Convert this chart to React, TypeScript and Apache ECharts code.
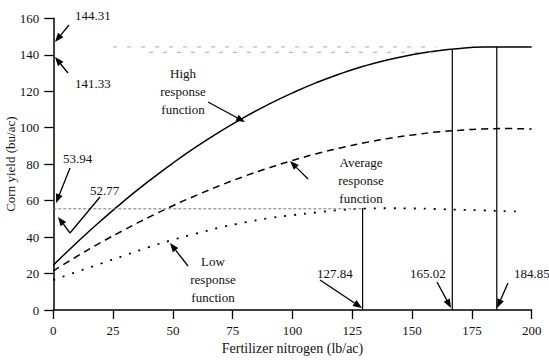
import React, { useEffect, useRef } from "react";
import * as echarts from "echarts";

// Fertilizer nitrogen levels (lb/ac) and read-off yields (bu/ac)
const nitrogenLevels = [0, 10, 20, 30, 40, 50, 60, 70, 80, 90, 100, 110, 120, 130, 140, 150, 160, 170, 180, 190, 200];
const highYield = [24.6, 37.2, 49.1, 60.3, 70.8, 80.6, 89.7, 98.1, 105.8, 112.8, 119.1, 124.7, 129.6, 133.8, 137.3, 140.0, 142.1, 143.5, 144.2, 144.3, 144.3];
const averageYield = [21.5, 29.5, 37.1, 44.2, 50.9, 57.2, 63.0, 68.4, 73.4, 77.9, 82.0, 85.7, 88.9, 91.7, 94.1, 96.0, 97.6, 98.6, 99.3, 99.5, 99.3];
const lowNitrogen = [0, 10, 20, 30, 40, 50, 60, 70, 80, 90, 100, 110, 120, 130, 140, 150, 160, 170, 180, 190, 195];
const lowYield = [16.5, 21.0, 25.5, 30.0, 34.5, 38.5, 42.0, 45.3, 48.0, 50.3, 52.0, 53.5, 54.8, 55.6, 55.8, 55.7, 55.4, 55.0, 54.6, 54.2, 54.0];

// Optimum nitrogen rates (drop lines) as drawn, with their labels
const optimumN = [129.3, 166.8, 185.4];
const optimumYield = [55.9, 142.6, 144.4];
const optimumLabels = ["127.84", "165.02", "184.85"];

// Horizontal guide levels
const guideLevels = [55.5, 144.31, 141.33];
const guideFrom = [0, 25, 40];
const guideTo = [129.3, 160, 160];
const yieldLabels = ["144.31", "141.33", "53.94", "52.77"];

const FONT = "Liberation Serif";

function arrow(x1: number, y1: number, x2: number, y2: number) {
  const dx = x2 - x1, dy = y2 - y1;
  const len = Math.sqrt(dx * dx + dy * dy);
  const ux = dx / len, uy = dy / len;
  const hl = 9, hw = 3.5;
  const bx = x2 - ux * hl, by = y2 - uy * hl;
  return [
    { type: "line", z: 100, shape: { x1, y1, x2: bx, y2: by }, style: { stroke: "#000", lineWidth: 1.3 } },
    {
      type: "polygon", z: 100,
      shape: { points: [[x2, y2], [bx - uy * hw, by + ux * hw], [bx + uy * hw, by - ux * hw]] },
      style: { fill: "#000" },
    },
  ];
}

function label(text: string, x: number, y: number, align = "left") {
  return {
    type: "text", z: 100, x, y,
    style: { text, fontFamily: FONT, fontSize: 13, fill: "#111", align, verticalAlign: "middle", lineHeight: 18 },
  };
}

export default function App() {
  const ref = useRef<HTMLDivElement>(null);
  useEffect(() => {
    if (!ref.current) return;
    const chart = echarts.init(ref.current, null, { renderer: "svg" });
    const pair = (xs: number[], ys: number[]) => xs.map((x, i) => [x, ys[i]]);

    const series: any[] = [
      { name: "High", type: "line", data: pair(nitrogenLevels, highYield), smooth: true, symbol: "none", lineStyle: { color: "#000", width: 1.5 } },
      { name: "Average", type: "line", data: pair(nitrogenLevels, averageYield), smooth: true, symbol: "none", lineStyle: { color: "#000", width: 1.5, type: [7, 5] } },
      { name: "Low", type: "line", data: pair(lowNitrogen, lowYield), smooth: true, symbol: "none", lineStyle: { color: "#000", width: 1.8, type: [2, 8] } },
    ];
    optimumN.forEach((n, i) => {
      series.push({ type: "line", data: [[n, 0], [n, optimumYield[i]]], symbol: "none", lineStyle: { color: "#000", width: 1.2 } });
    });
    guideLevels.forEach((lv, i) => {
      series.push({
        type: "line", data: [[guideFrom[i], lv], [guideTo[i], lv]], symbol: "none",
        lineStyle: { color: i === 0 ? "#777" : "#aaa", width: 1, type: i === 0 ? [3, 2] : [4, 10] },
      });
    });

    const graphic: any[] = [
      ...arrow(69, 25, 55, 42),
      ...arrow(68, 73, 55, 57),
      ...arrow(70, 168, 56, 203),
      { type: "line", z: 100, shape: { x1: 100, y1: 197, x2: 70, y2: 233 }, style: { stroke: "#000", lineWidth: 1.3 } },
      ...arrow(70, 233, 58, 217),
      ...arrow(208, 102, 245, 122),
      ...arrow(308, 179, 290, 161),
      ...arrow(188, 266, 170, 243),
      ...arrow(320, 280, 362, 308),
      ...arrow(437, 282, 451, 308),
      ...arrow(508, 283, 497, 308),
      label(yieldLabels[0], 75, 15),
      label(yieldLabels[1], 75, 83),
      label(yieldLabels[2], 63, 158),
      label(yieldLabels[3], 90, 190),
      label(optimumLabels[0], 317, 273),
      label(optimumLabels[1], 410, 273),
      label(optimumLabels[2], 514, 273),
      label("High\nresponse\nfunction", 183, 91, "center"),
      label("Average\nresponse\nfunction", 361, 180, "center"),
      label("Low\nresponse\nfunction", 213, 279, "center"),
    ];

    chart.setOption({
      animation: false,
      backgroundColor: "#fff",
      grid: { left: 53.3, right: 17.3, top: 18.3, bottom: 54, containLabel: false, outerBoundsMode: "none" },
      xAxis: {
        type: "value", min: 0, max: 200, interval: 25,
        name: "Fertilizer nitrogen (lb/ac)", nameLocation: "middle", nameGap: 31, nameMoveOverlap: false,
        nameTextStyle: { fontFamily: FONT, fontSize: 14, color: "#111" },
        axisLine: { lineStyle: { color: "#000", width: 1.5 } },
        axisTick: { show: true, length: 9, lineStyle: { color: "#000", width: 1.3 } },
        axisLabel: { fontFamily: FONT, fontSize: 13, color: "#111", margin: 14 },
        splitLine: { show: false },
      },
      yAxis: {
        type: "value", min: 0, max: 160, interval: 20,
        name: "Corn yield (bu/ac)", nameLocation: "middle", nameGap: 36, nameRotate: 90, nameMoveOverlap: false,
        nameTextStyle: { fontFamily: FONT, fontSize: 13, color: "#111" },
        axisLine: { show: true, lineStyle: { color: "#000", width: 1.5 } },
        axisTick: { show: true, length: 9, lineStyle: { color: "#000", width: 1.3 } },
        axisLabel: { fontFamily: FONT, fontSize: 13, color: "#111", margin: 14 },
        splitLine: { show: false },
      },
      series,
      graphic,
    });
    return () => chart.dispose();
  }, []);
  return <div ref={ref} style={{ position: "fixed", left: 0, top: 0, width: 549, height: 364 }} />;
}
